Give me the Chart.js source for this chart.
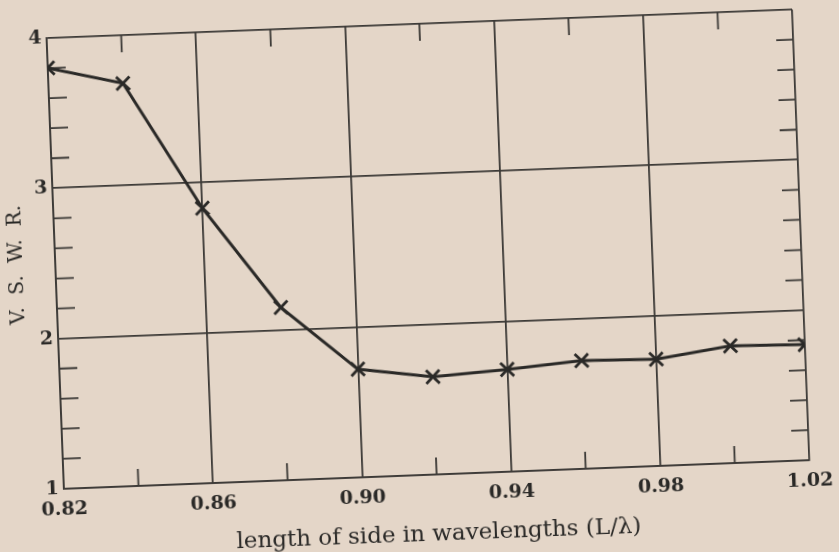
<!DOCTYPE html>
<html>
<head>
<meta charset="utf-8">
<script src="https://cdn.jsdelivr.net/npm/chart.js@4/dist/chart.umd.min.js"></script>
<style>
  html, body { margin: 0; padding: 0; background: #e4d6c8; overflow: hidden; }
  #wrap { width: 839px; height: 552px; transform: rotate(-2.2deg); transform-origin: 50% 50%; }
</style>
</head>
<body>
<div id="wrap"><canvas id="chart" width="839" height="552"></canvas></div>
<script>
// measured VSWR against side length (in wavelengths)
const lengths = [0.82, 0.84, 0.86, 0.88, 0.90, 0.92, 0.94, 0.96, 0.98, 1.00, 1.02];
const vswr = [3.80, 3.68, 2.83, 2.15, 1.72, 1.65, 1.68, 1.72, 1.71, 1.78, 1.77];

const xTicks = [0.82, 0.86, 0.90, 0.94, 0.98, 1.02];
const xTickLabels = ['0.82', '0.86', '0.90', '0.94', '0.98', '1.02'];
const xMinor = [0.84, 0.88, 0.92, 0.96, 1.00];
const yTickLabels = ['1', '2', '3', '4'];
const yMinor = [1.2, 1.4, 1.6, 1.8, 2.2, 2.4, 2.6, 2.8, 3.2, 3.4, 3.6, 3.8];

const ink = '#2a2927';
const gridInk = '#3b3936';

// short inward ticks on all four sides of the frame
const minorTicks = {
  id: 'minorTicks',
  beforeDatasetsDraw(chart) {
    const { ctx, chartArea: a, scales: { x, y } } = chart;
    ctx.save();
    ctx.strokeStyle = gridInk;
    ctx.lineWidth = 1.8;
    ctx.beginPath();
    xMinor.forEach(v => {
      const px = x.getPixelForValue(v);
      ctx.moveTo(px, a.bottom); ctx.lineTo(px, a.bottom - 17);
      ctx.moveTo(px, a.top); ctx.lineTo(px, a.top + 17);
    });
    yMinor.forEach(v => {
      const py = y.getPixelForValue(v);
      ctx.moveTo(a.left, py); ctx.lineTo(a.left + 18, py);
      ctx.moveTo(a.right, py); ctx.lineTo(a.right - 17, py);
    });
    ctx.stroke();
    ctx.restore();
  }
};

new Chart(document.getElementById('chart'), {
  type: 'scatter',
  data: {
    datasets: [{
      data: lengths.map((l, i) => ({ x: l, y: vswr[i] })),
      showLine: true,
      borderColor: ink,
      borderWidth: 3,
      pointStyle: 'crossRot',
      pointRadius: 9.5,
      pointBorderWidth: 2.8,
      pointBorderColor: ink,
      pointBackgroundColor: ink
    }]
  },
  options: {
    responsive: false,
    animation: false,
    layout: { padding: { left: 6, right: 37, top: 24, bottom: 3 } },
    plugins: { legend: { display: false }, tooltip: { enabled: false } },
    scales: {
      x: {
        type: 'linear',
        min: 0.82,
        max: 1.02,
        afterBuildTicks: s => { s.ticks = xTicks.map(v => ({ value: v })); },
        afterFit: s => { s.height = 74; },
        grid: { color: gridInk, lineWidth: 1.8, drawTicks: false },
        border: { color: gridInk, width: 1.8 },
        ticks: {
          padding: 10,
          color: ink,
          font: { family: 'DejaVu Serif', size: 19, weight: 'bold' },
          callback: (v, i) => xTickLabels[i]
        },
        title: {
          display: true,
          text: 'length of side in wavelengths (L/λ)',
          color: ink,
          font: { family: 'DejaVu Serif', size: 23 },
          padding: 0
        }
      },
      y: {
        min: 1,
        max: 4,
        afterBuildTicks: s => { s.ticks = [1, 2, 3, 4].map(v => ({ value: v })); },
        afterFit: s => { s.width = 50; },
        grid: { color: gridInk, lineWidth: 1.8, drawTicks: false },
        border: { color: gridInk, width: 1.8 },
        ticks: {
          padding: 5,
          color: ink,
          font: { family: 'DejaVu Serif', size: 19, weight: 'bold' },
          callback: (v, i) => yTickLabels[i]
        },
        title: {
          display: true,
          text: 'V.  S.  W.  R.',
          color: ink,
          font: { family: 'DejaVu Serif', size: 20 },
          padding: 0
        }
      }
    }
  },
  plugins: [minorTicks]
});
</script>
</body>
</html>
